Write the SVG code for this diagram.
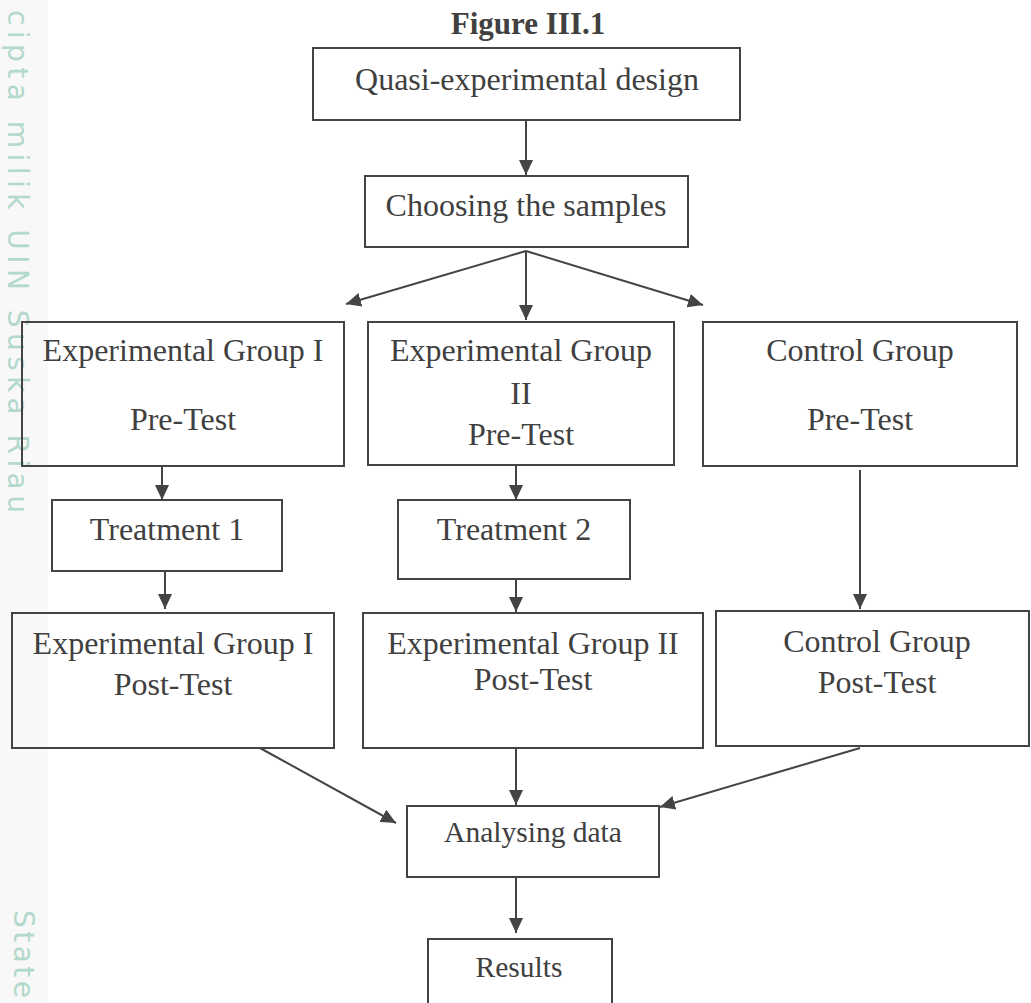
<svg xmlns="http://www.w3.org/2000/svg" width="1031" height="1003" viewBox="0 0 1031 1003">
<style>
  .box { fill: none; stroke: #444; stroke-width: 2; }
  .lbl { font-family: "Liberation Serif", "Times New Roman", serif; font-size: 32px; fill: #404040; text-anchor: middle; }
  .sm { font-size: 29.5px; }
  .ttl { font-family: "Liberation Serif", "Times New Roman", serif; font-size: 31px; font-weight: bold; fill: #404040; text-anchor: middle; }
  .wm { font-family: "DejaVu Sans", "Noto Sans", sans-serif; font-size: 28px; fill: #b2d9cc; }
  .edge { fill: none; stroke: #444; stroke-width: 2; marker-end: url(#ah); }
</style>
<defs>
  <marker id="ah" markerUnits="userSpaceOnUse" markerWidth="16" markerHeight="14" refX="15" refY="7" orient="auto">
    <path d="M0,0 L15,7 L0,14 Z" fill="#444"/>
  </marker>
</defs>
<rect x="0" y="0" width="1031" height="1003" fill="#ffffff"/>
<rect x="0" y="0" width="48" height="1003" fill="#f8f8f8"/>
<g id="watermark">
  <text class="wm" transform="translate(8,10) rotate(90)" textLength="503" lengthAdjust="spacing">cipta milik UIN Suska Riau</text>
  <text class="wm" transform="translate(14,910) rotate(90)" textLength="88" lengthAdjust="spacing">State</text>
</g>
<text class="ttl" x="528" y="34">Figure III.1</text>
<g id="connectors">
  <line class="edge" x1="526" y1="121" x2="526" y2="175"/>
  <line class="edge" x1="526" y1="251" x2="346" y2="304"/>
  <line class="edge" x1="526" y1="251" x2="526" y2="320"/>
  <line class="edge" x1="526" y1="251" x2="703" y2="305"/>
  <line class="edge" x1="162" y1="467" x2="162" y2="500"/>
  <line class="edge" x1="516" y1="466" x2="516" y2="500"/>
  <line class="edge" x1="860" y1="470" x2="860" y2="609"/>
  <line class="edge" x1="165" y1="572" x2="165" y2="609"/>
  <line class="edge" x1="516" y1="580" x2="516" y2="612"/>
  <line class="edge" x1="260" y1="748" x2="396" y2="823"/>
  <line class="edge" x1="516" y1="749" x2="516" y2="805"/>
  <line class="edge" x1="860" y1="748" x2="660" y2="807"/>
  <line class="edge" x1="516" y1="876" x2="516" y2="933"/>
</g>
<g id="n-quasi">
  <rect class="box" x="313" y="48" width="427" height="72"/>
  <text class="lbl" x="527" y="90">Quasi-experimental design</text>
</g>
<g id="n-choosing">
  <rect class="box" x="365" y="176" width="323" height="71"/>
  <text class="lbl" x="526" y="216">Choosing the samples</text>
</g>
<g id="n-eg1-pre">
  <rect class="box" x="22" y="322" width="322" height="144"/>
  <text class="lbl" x="183" y="361">Experimental Group I</text>
  <text class="lbl" x="183" y="430">Pre-Test</text>
</g>
<g id="n-eg2-pre">
  <rect class="box" x="368" y="322" width="306" height="143"/>
  <text class="lbl" x="521" y="361">Experimental Group</text>
  <text class="lbl" x="521" y="404">II</text>
  <text class="lbl" x="521" y="445">Pre-Test</text>
</g>
<g id="n-cg-pre">
  <rect class="box" x="703" y="322" width="314" height="144"/>
  <text class="lbl" x="860" y="361">Control Group</text>
  <text class="lbl" x="860" y="430">Pre-Test</text>
</g>
<g id="n-t1">
  <rect class="box" x="52" y="500" width="230" height="71"/>
  <text class="lbl" x="167" y="540">Treatment 1</text>
</g>
<g id="n-t2">
  <rect class="box" x="398" y="500" width="232" height="79"/>
  <text class="lbl" x="514" y="540">Treatment 2</text>
</g>
<g id="n-eg1-post">
  <rect class="box" x="12" y="613" width="322" height="135"/>
  <text class="lbl" x="173" y="654">Experimental Group I</text>
  <text class="lbl" x="173" y="695">Post-Test</text>
</g>
<g id="n-eg2-post">
  <rect class="box" x="363" y="613" width="340" height="135"/>
  <text class="lbl" x="533" y="654">Experimental Group II</text>
  <text class="lbl" x="533" y="690">Post-Test</text>
</g>
<g id="n-cg-post">
  <rect class="box" x="716" y="611" width="313" height="135"/>
  <text class="lbl" x="877" y="652">Control Group</text>
  <text class="lbl" x="877" y="693">Post-Test</text>
</g>
<g id="n-analysing">
  <rect class="box" x="407" y="806" width="252" height="71"/>
  <text class="lbl sm" x="533" y="842">Analysing data</text>
</g>
<g id="n-results">
  <rect class="box" x="428" y="939" width="184" height="80"/>
  <text class="lbl sm" x="519" y="977">Results</text>
</g>
</svg>
